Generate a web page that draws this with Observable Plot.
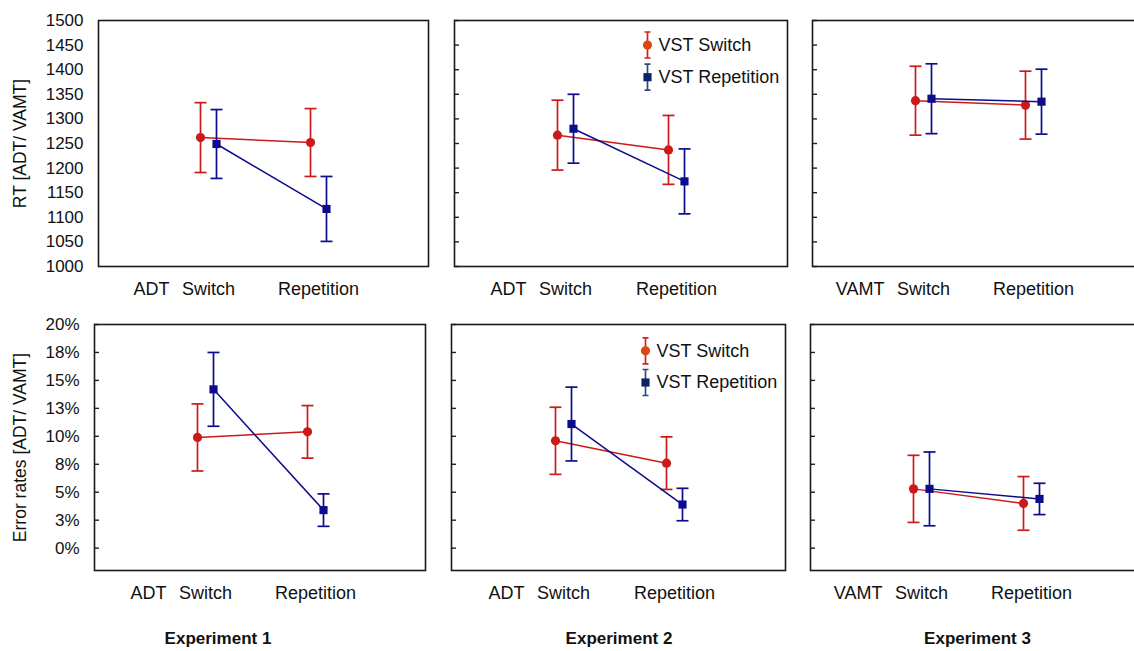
<!DOCTYPE html>
<html>
<head>
<meta charset="utf-8">
<script src="https://cdn.jsdelivr.net/npm/d3@7"></script>
<script src="https://cdn.jsdelivr.net/npm/@observablehq/plot@0.6"></script>
<style>
  body { margin: 0; background: #fff; font-family: "Liberation Sans", Arial, sans-serif; }
  #chart { position: relative; width: 1134px; height: 651px; overflow: hidden; background: #fff; }
  .panel { position: absolute; }
  .panel svg { max-width: none !important; }
  .exp { position: absolute; font-weight: bold; font-size: 17px; line-height: 20px; transform: translateX(-50%); white-space: nowrap; color: #111; }
</style>
</head>
<body>
<div id="chart"></div>
<script>
// ---------- data ----------
const experiments = ["Experiment 1", "Experiment 2", "Experiment 3"];
const taskLabels = ["ADT", "ADT", "VAMT"];
const conditions = ["Switch", "Repetition"];
const seriesNames = ["VST Switch", "VST Repetition"];

// RT (ms): [experiment][condition]
const rtSwitchMean = [[1262, 1252], [1267, 1237], [1337, 1328]];
const rtSwitchCI   = [[71, 69], [71, 70], [70, 69]];
const rtRepMean    = [[1249, 1117], [1280, 1173], [1341, 1335]];
const rtRepCI      = [[70, 66], [70, 66], [71, 66]];

// Error rates (%): [experiment][condition]
const erSwitchMean = [[9.9, 10.4], [9.6, 7.6], [5.3, 4.0]];
const erSwitchCI   = [[3.0, 2.35], [3.0, 2.35], [3.0, 2.4]];
const erRepMean    = [[14.2, 3.4], [11.1, 3.9], [5.3, 4.4]];
const erRepCI      = [[3.3, 1.45], [3.3, 1.45], [3.3, 1.4]];

const rtTicks = [1000, 1050, 1100, 1150, 1200, 1250, 1300, 1350, 1400, 1450, 1500];
const erTicks = [0, 2.5, 5, 7.5, 10, 12.5, 15, 17.5, 20];
const erTickLabels = ["0%", "3%", "5%", "8%", "10%", "13%", "15%", "18%", "20%"];

const rtLabel = "RT [ADT/ VAMT]";
const erLabel = "Error rates [ADT/ VAMT]";

// ---------- styling / layout ----------
const FONT = "'Liberation Sans', Arial, sans-serif";
const lineColors = ["#cc1a1a", "#0c0c8c"];
const legendBarColors = ["#d42020", "#2e4a78"];
const legendMarkColors = ["#d9480f", "#0a2466"];
const symbols = ["circle", "square"];
const offsets = [-8, 8];

const rows = {
  rt: { top: 20, frames: [[98, 428], [454, 787], [812, 1143]], domain: [1000, 1500],
        ticks: rtTicks, fmt: d => String(d), label: rtLabel,
        means: [rtSwitchMean, rtRepMean], cis: [rtSwitchCI, rtRepCI], innerTicks: [false, true, true] },
  er: { top: 324, frames: [[94, 425], [451, 785], [810, 1141]], domain: [-2, 20],
        ticks: erTicks, fmt: d => erTickLabels[erTicks.indexOf(d)], label: erLabel,
        means: [erSwitchMean, erRepMean], cis: [erSwitchCI, erRepCI], innerTicks: [true, true, true] }
};
const frameH = 246;

const capSymbol = { draw(ctx, size) { const w = Math.sqrt(size / Math.PI); ctx.moveTo(-w, 0); ctx.lineTo(w, 0); } };
const legendGlyph = { draw(ctx) { const h = 13, c = 3; ctx.moveTo(0, -h); ctx.lineTo(0, h); ctx.moveTo(-c, -h); ctx.lineTo(c, -h); ctx.moveTo(-c, h); ctx.lineTo(c, h); } };

const chart = document.getElementById("chart");

function makePanel(key, e) {
  const R = rows[key];
  const [fl, fr] = R.frames[e];
  const mL = e === 0 ? fl : 12, mT = 10, mB = 44, mR = 4;
  const width = mL + (fr - fl) + mR;
  const height = mT + frameH + mB;
  const marks = [];

  if (e === 0) {
    marks.push(Plot.axisY(R.ticks, { tickSize: 0, tickPadding: 15, tickFormat: R.fmt, fontSize: 17, label: null }));
    marks.push(Plot.text([R.label], { frameAnchor: "left", dx: -(fl - 20), rotate: -90, text: d => d, textAnchor: "middle", lineAnchor: "middle", fontSize: 17.5, fill: "#111" }));
  }
  if (R.innerTicks[e]) {
    marks.push(Plot.axisY(R.ticks, { tickSize: 5, dx: 5, tickFormat: () => "", label: null, strokeWidth: 1.4, stroke: "#222" }));
  }
  marks.push(Plot.axisX({ tickSize: 0, tickPadding: 16, fontSize: 18, label: null }));
  marks.push(Plot.text([taskLabels[e]], { x: () => conditions[0], frameAnchor: "bottom", dy: 16, dx: -39, lineAnchor: "top", textAnchor: "end", text: d => d, fontSize: 18, fill: "#111" }));

  for (let s = 0; s < 2; s++) {
    const data = conditions.map((c, i) => {
      const m = R.means[s][e][i], ci = R.cis[s][e][i];
      return { cond: c, mean: m, lo: m - ci, hi: m + ci };
    });
    const col = lineColors[s], dx = offsets[s];
    marks.push(Plot.ruleX(data, { x: "cond", y1: "lo", y2: "hi", dx, stroke: col, strokeWidth: 1.7 }));
    marks.push(Plot.dot(data, { x: "cond", y: "hi", dx, symbol: capSymbol, r: 6, stroke: col, fill: "none", strokeWidth: 1.7 }));
    marks.push(Plot.dot(data, { x: "cond", y: "lo", dx, symbol: capSymbol, r: 6, stroke: col, fill: "none", strokeWidth: 1.7 }));
    marks.push(Plot.line(data, { x: "cond", y: "mean", dx, stroke: col, strokeWidth: 1.5 }));
    marks.push(Plot.dot(data, { x: "cond", y: "mean", dx, symbol: symbols[s], r: 4.6, fill: col, stroke: "none" }));
  }

  if (e === 1) {
    const legendDy = key === "rt" ? [24.5, 56.7] : [26.3, 58];
    const legendDx = key === "rt" ? 193 : 194;
    for (let s = 0; s < 2; s++) {
      marks.push(Plot.dot([seriesNames[s]], { frameAnchor: "top-left", dx: legendDx, dy: legendDy[s], symbol: legendGlyph, stroke: legendBarColors[s], fill: "none", strokeWidth: 1.7 }));
      marks.push(Plot.dot([seriesNames[s]], { frameAnchor: "top-left", dx: legendDx, dy: legendDy[s], symbol: symbols[s], r: 4.6, fill: legendMarkColors[s], stroke: "none" }));
      marks.push(Plot.text([seriesNames[s]], { frameAnchor: "top-left", dx: legendDx + 11, dy: legendDy[s], text: d => d, textAnchor: "start", lineAnchor: "middle", fontSize: 18, fill: "#111" }));
    }
  }

  marks.push(Plot.frame({ stroke: "#1a1a1a", strokeWidth: 1.6 }));

  const svg = Plot.plot({
    width, height,
    marginLeft: mL, marginRight: mR, marginTop: mT, marginBottom: mB,
    style: { fontFamily: FONT, color: "#111", background: "transparent", overflow: "visible", maxWidth: "none" },
    x: { type: "point", domain: conditions, padding: 1, label: null },
    y: { domain: R.domain, label: null },
    marks
  });
  const div = document.createElement("div");
  div.className = "panel";
  div.style.left = (fl - mL) + "px";
  div.style.top = (R.top - mT) + "px";
  div.style.width = width + "px";
  div.appendChild(svg);
  chart.appendChild(div);
}

for (const key of ["rt", "er"]) for (let e = 0; e < 3; e++) makePanel(key, e);

const expCenters = [218, 619, 977.5];
experiments.forEach((name, i) => {
  const d = document.createElement("div");
  d.className = "exp";
  d.textContent = name;
  d.style.left = expCenters[i] + "px";
  d.style.top = "629px";
  chart.appendChild(d);
});
</script>
</body>
</html>
